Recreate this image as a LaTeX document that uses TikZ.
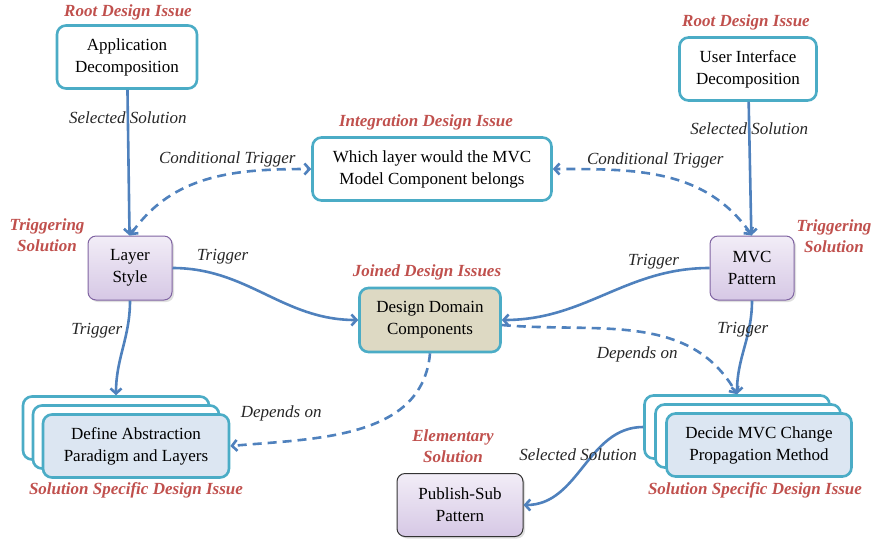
\documentclass[tikz,border=0pt]{standalone}
\usepackage{fontspec}
\setmainfont{Liberation Serif}
\usetikzlibrary{arrows.meta, shadows}

\definecolor{issueteal}{RGB}{75,172,198}
\definecolor{linkblue}{RGB}{79,129,189}
\definecolor{tagred}{RGB}{192,80,77}
\definecolor{solpurple}{RGB}{128,100,162}
\definecolor{soltop}{RGB}{242,237,247}
\definecolor{solbottom}{RGB}{214,200,229}
\definecolor{joinedtan}{RGB}{221,217,195}
\definecolor{specblue}{RGB}{220,230,242}

\begin{document}
\begin{tikzpicture}[x=1pt, y=-1pt, >={Straight Barb[length=5pt,width=11pt]},
    font=\fontsize{17}{22}\selectfont,
    issue/.style={draw=issueteal, line width=2.6pt, fill=white, rounded corners=9pt, align=center, minimum height=63pt},
    solution/.style={draw=solpurple, line width=1pt, top color=soltop, bottom color=solbottom, rounded corners=8pt, align=center, minimum width=84pt, minimum height=64pt, drop shadow={opacity=.25, shadow xshift=2pt, shadow yshift=-2pt}},
    tag/.style={text=tagred, font=\fontsize{17}{21}\selectfont\bfseries\itshape, align=center},
    link/.style={->, draw=linkblue, line width=2.6pt},
    cond/.style={link, dash pattern=on 9pt off 6pt},
    lbl/.style={font=\fontsize{17}{21}\selectfont\itshape, text=black!85}]
    \useasboundingbox (0,0) rectangle (875,542);

    % root issues
    \node[issue, minimum width=140pt] (app) at (127,57) {Application\\Decomposition};
    \node[issue, minimum width=137pt] (ui) at (748,69) {User Interface\\Decomposition};

    % integration issue
    \node[issue, minimum width=239pt] (which) at (432,169) {Which layer would the MVC\\Model Component belongs};

    % triggering solutions
    \node[solution] (layer) at (130,268) {Layer\\Style};
    \node[solution] (mvc) at (752,268) {MVC\\Pattern};

    % joined issue
    \node[issue, fill=joinedtan, minimum width=141pt, minimum height=64pt] (ddc) at (430,320) {Design Domain\\Components};

    % solution specific issues (stacked)
    \node[issue, minimum width=186pt] (defineback) at (116,428) {};
    \node[issue, minimum width=186pt] (definemid) at (126,437) {};
    \node[issue, fill=specblue, minimum width=186pt] (define) at (136,446) {Define Abstraction\\Paradigm and Layers};
    \node[issue, minimum width=185pt] (decideback) at (737,427) {};
    \node[issue, minimum width=185pt] (decidemid) at (748,436) {};
    \node[issue, fill=specblue, minimum width=185pt] (decide) at (759,445) {Decide MVC Change\\Propagation Method};

    % elementary solution
    \node[solution, draw=black!80, minimum width=126pt, minimum height=63pt] (publish) at (460,505) {Publish-Sub\\Pattern};

    % red tags
    \node[tag] (approot) at (128,12) {Root Design Issue};
    \node[tag] (uiroot) at (746,22) {Root Design Issue};
    \node[tag] (whichtag) at (426,122) {Integration Design Issue};
    \node[tag] (layertag) at (47,235) {Triggering\\Solution};
    \node[tag] (mvctag) at (834,236) {Triggering\\Solution};
    \node[tag] (ddctag) at (427,272) {Joined Design Issues};
    \node[tag] (definetag) at (136,490) {Solution Specific Design Issue};
    \node[tag] (decidetag) at (755,490) {Solution Specific Design Issue};
    \node[tag] (pubtag) at (453,446) {Elementary\\Solution};

    % selected solutions
    \draw[link] (app) -- node[lbl, pos=.19] {Selected Solution} (layer);
    \draw[link] (ui) -- node[lbl, pos=.2] {Selected Solution} (mvc);

    % conditional triggers
    \draw[cond, <->] (layer.north) to[out=55, in=180] node[lbl, pos=.6, above=3pt] {Conditional Trigger} (which.west);
    \draw[cond, <->] (mvc.north) to[out=125, in=0] node[lbl, pos=.55, above=2pt] {Conditional Trigger} (which.east);

    % triggers
    \draw[link] (layer.east) to[out=0, in=180] node[lbl, pos=.25, above=7pt] {Trigger} (ddc.west);
    \draw[link] (mvc.west) to[out=180, in=0] node[lbl, pos=.25, above=2pt] {Trigger} (ddc.east);
    \draw[link] (layer.south) to[out=-90, in=90] node[lbl, pos=.3, left] {Trigger} (defineback.north);
    \draw[link] (mvc.south) to[out=-90, in=90] node[lbl, pos=.3, xshift=-6pt] {Trigger} (decideback.north);

    % dependencies
    \draw[cond] (ddc.south) to[out=-95, in=5] node[lbl, pos=.8, above=16pt, xshift=-2pt] {Depends on} (define.east);
    \draw[cond] ([yshift=-5pt]ddc.east) to[out=-5, in=120] node[lbl, pos=.5, below=10pt] {Depends on} (decideback.north);

    % elementary solution link
    \draw[link] (decideback.west) to[out=180, in=0] node[lbl, pos=.45, yshift=5pt, xshift=-10pt] {Selected Solution} (publish.east);
\end{tikzpicture}
\end{document}
